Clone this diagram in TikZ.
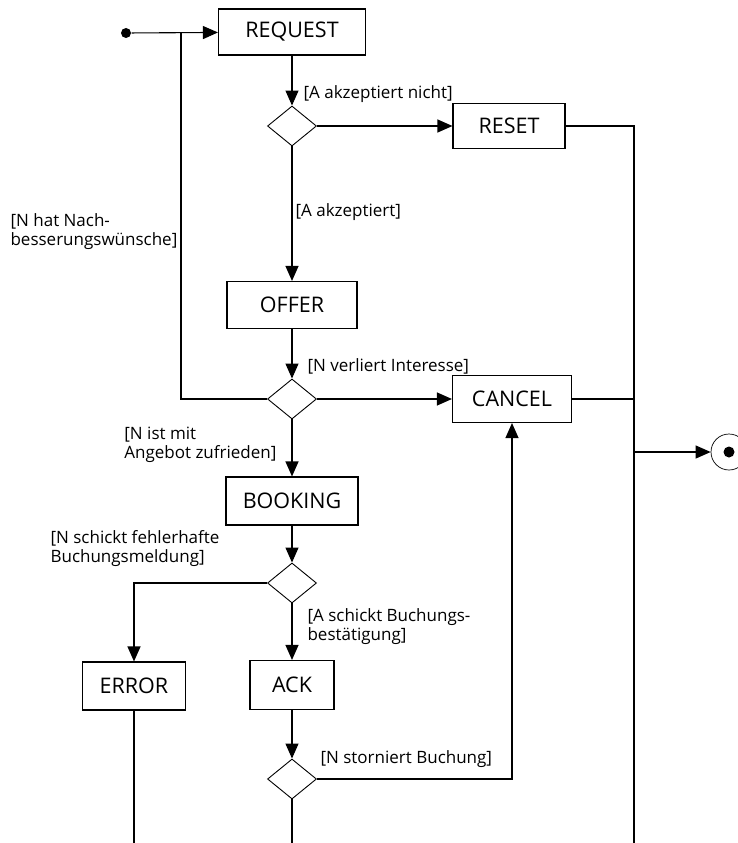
\documentclass[tikz,border=0pt]{standalone}
\usepackage{fontspec}
\setsansfont{Open Sans}
\usetikzlibrary{arrows.meta,shapes.geometric}

\begin{document}
\begin{tikzpicture}[x=1pt, y=-1pt, font=\sffamily, line width=1.1pt, line join=miter,
	zustand/.style={draw, fill=white, inner sep=0pt, font=\sffamily\fontsize{21.5}{24}\selectfont},
	entscheidung/.style={draw, diamond, inner sep=0pt, minimum width=49pt, minimum height=40pt, line width=0.9pt},
	bedingung/.style={font=\sffamily\fontsize{17}{19}\selectfont, inner sep=0pt, align=left},
	pfeil/.style={-{Triangle[length=15pt, width=13pt]}}]
	
	\useasboundingbox (0,0) rectangle (738,843);
	
	% Start und Ende
	\node[circle, fill, inner sep=0pt, minimum size=10pt] (start) at (126,33) {};
	\node[circle, draw, line width=0.7pt, inner sep=0pt, minimum size=36pt] (ende) at (729,452) {};
	\node[circle, fill, inner sep=0pt, minimum size=11pt] (endepunkt) at (ende) {};
	
	% Zustände
	\node[zustand, minimum width=147pt, minimum height=46pt] (request) at (292,32) {REQUEST};
	\node[zustand, minimum width=112pt, minimum height=45pt] (reset) at (509,126) {RESET};
	\node[zustand, minimum width=130pt, minimum height=47pt] (offer) at (292,305) {OFFER};
	\node[zustand, minimum width=119pt, minimum height=47pt] (cancel) at (512,399) {CANCEL};
	\node[zustand, minimum width=132pt, minimum height=48pt] (booking) at (292,501) {BOOKING};
	\node[zustand, minimum width=103pt, minimum height=48pt] (error) at (134,686) {ERROR};
	\node[zustand, minimum width=84pt, minimum height=49pt] (ack) at (292,685) {ACK};
	
	% Entscheidungen
	\node[entscheidung] (d1) at (292,126) {};
	\node[entscheidung] (d2) at (292,399) {};
	\node[entscheidung] (d3) at (292,583) {};
	\node[entscheidung] (d4) at (292,779) {};
	
	% Hilfspunkte
	\coordinate (knoten) at (181,33);
	\coordinate (rechts) at (634,843);
	\coordinate (unten) at (0,843);
	
	% Übergänge
	\draw[pfeil] (start) -- (request);
	\draw (d2.west) -| (knoten);
	\draw[pfeil] (request) -- (d1);
	\draw[pfeil] (d1) -- (reset);
	\draw[pfeil] (d1) -- (offer);
	\draw (reset.east) -| (rechts);
	\draw (cancel.east) -- (cancel.east -| rechts);
	\draw[pfeil] (rechts |- ende) -- (ende);
	\draw[pfeil] (offer) -- (d2);
	\draw[pfeil] (d2) -- (cancel);
	\draw[pfeil] (d2) -- (booking);
	\draw[pfeil] (booking) -- (d3);
	\draw[pfeil] (d3.west) -| (error);
	\draw[pfeil] (d3) -- (ack);
	\draw[pfeil] (ack) -- (d4);
	\draw[pfeil] (d4.east) -| (cancel);
	\draw (error) -- (error |- unten);
	\draw (d4) -- (d4 |- unten);
	
	% Bedingungen
	\node[bedingung, anchor=west] (b1) at (303,94) {[A akzeptiert nicht]};
	\node[bedingung, anchor=west] (b2) at (295,212) {[A akzeptiert]};
	\node[bedingung, anchor=west] (b3) at (10,232) {[N hat Nach-\\besserungswünsche]};
	\node[bedingung, anchor=west] (b4) at (307,366) {[N verliert Interesse]};
	\node[bedingung, anchor=east] (b5) at (277,445) {[N ist mit\\Angebot zufrieden]};
	\node[bedingung, anchor=west] (b6) at (50,549) {[N schickt fehlerhafte\\Buchungsmeldung]};
	\node[bedingung, anchor=west] (b7) at (307,627) {[A schickt Buchungs-\\bestätigung]};
	\node[bedingung, anchor=west] (b8) at (320,759) {[N storniert Buchung]};
	
\end{tikzpicture}
\end{document}
